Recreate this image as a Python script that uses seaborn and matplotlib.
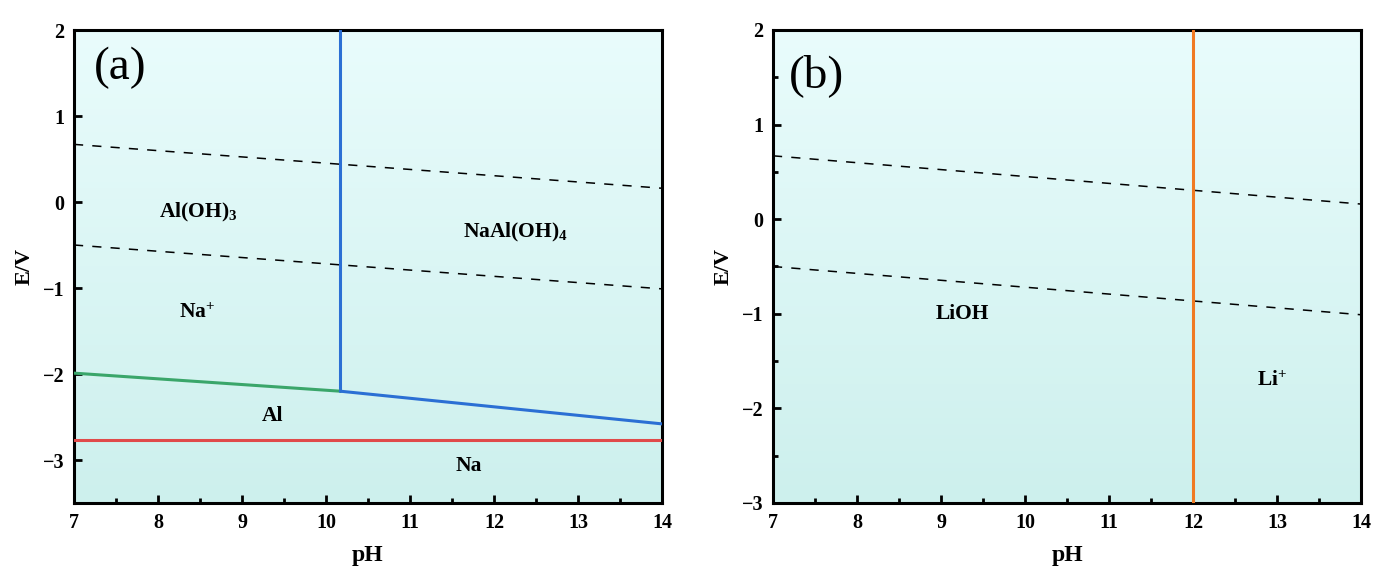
import numpy as np
import pandas as pd
import matplotlib
matplotlib.use("Agg")
import matplotlib.pyplot as plt
import seaborn as sns

# water stability lines (shared by both panels)
ph_ends = [7, 14]
o2_line = [0.67, 0.16]
h2_line = [-0.50, -1.01]

# panel (a): Na-Al system
a_vert_ph = [10.17, 10.17]
a_vert_e = [-2.20, 2.0]
a_green_ph = [7, 10.17]
a_green_e = [-1.99, -2.20]
a_blue_ph = [10.17, 14]
a_blue_e = [-2.20, -2.58]
a_red_ph = [7, 14]
a_red_e = [-2.77, -2.77]
a_labels = ["Al(OH)$_3$", "NaAl(OH)$_4$", "Na$^{+}$", "Al", "Na"]
a_label_ph = [8.48, 12.25, 8.46, 9.36, 11.70]
a_label_e = [-0.12, -0.36, -1.29, -2.49, -3.07]

# panel (b): Li system
b_vert_ph = [12, 12]
b_vert_e = [-3.0, 2.0]
b_labels = ["LiOH", "Li$^{+}$"]
b_label_ph = [9.25, 12.94]
b_label_e = [-1.00, -1.71]

sns.set_style("ticks")
plt.rcParams["font.family"] = ["Liberation Serif", "DejaVu Serif"]
plt.rcParams["mathtext.fontset"] = "custom"
plt.rcParams["mathtext.rm"] = "Liberation Serif:bold"
plt.rcParams["mathtext.it"] = "Liberation Serif:bold"
plt.rcParams["mathtext.bf"] = "Liberation Serif:bold"
plt.rcParams["text.color"] = "black"
plt.rcParams["axes.labelcolor"] = "black"
plt.rcParams["xtick.color"] = "black"
plt.rcParams["ytick.color"] = "black"
plt.rcParams["axes.edgecolor"] = "black"

fig = plt.figure(figsize=(13.93, 5.77), dpi=100)
ax_a = fig.add_axes([74 / 1393, 1 - 503 / 577, 588 / 1393, 473 / 577])
ax_b = fig.add_axes([773 / 1393, 1 - 503 / 577, 588 / 1393, 473 / 577])

top_col = np.array([233, 252, 252]) / 255
bot_col = np.array([205, 240, 237]) / 255
grad = np.linspace(0, 1, 256)[:, None, None]
grad_img = top_col * (1 - grad) + bot_col * grad


def draw_line(ax, xs, ys, **kw):
    sns.lineplot(x=xs, y=ys, ax=ax, estimator=None, sort=False, **kw)


def style_axes(ax, ymin, yticks):
    ax.imshow(grad_img, extent=[0, 1, 0, 1], transform=ax.transAxes,
              aspect="auto", zorder=0)
    ax.set_xticks(range(7, 15))
    ax.set_xticks(np.arange(7.5, 14, 1), minor=True)
    ax.set_yticks(yticks)
    ax.set_yticks(np.arange(ymin + 0.5, 2, 1), minor=True)
    ax.set_yticklabels(["\u2212" + str(-t) if t < 0 else str(t) for t in yticks])
    ax.tick_params(which="major", direction="in", length=6, width=2,
                   labelsize=14.5, pad=7, top=False, right=False)
    ax.tick_params(which="minor", direction="in", length=3.5, width=2,
                   top=False, right=False)
    for lab in ax.get_xticklabels() + ax.get_yticklabels():
        lab.set_fontweight("bold")
    for sp in ax.spines.values():
        sp.set_visible(True)
        sp.set_linewidth(2.2)
    ax.set_xlabel("pH", fontsize=17, fontweight="bold", labelpad=9)
    ax.set_ylabel("E/V", fontsize=16, fontweight="bold", labelpad=6)
    for ys in (o2_line, h2_line):
        draw_line(ax, ph_ends, ys, color="black", lw=1.1,
                  linestyle=(0, (6, 6)), zorder=2)
    ax.set_xlim(7, 14)
    ax.set_ylim(ymin, 2)


style_axes(ax_a, -3.5, [2, 1, 0, -1, -2, -3])
draw_line(ax_a, a_vert_ph, a_vert_e, color="#2b6fd4", lw=2.2, zorder=3)
draw_line(ax_a, a_green_ph, a_green_e, color="#3aa66a", lw=2.2, zorder=3)
draw_line(ax_a, a_blue_ph, a_blue_e, color="#2b6fd4", lw=2.2, zorder=3)
draw_line(ax_a, a_red_ph, a_red_e, color="#e04a4a", lw=2.2, zorder=3)
for t, x, y in zip(a_labels, a_label_ph, a_label_e):
    ax_a.text(x, y, t, ha="center", va="center", fontsize=15.5, fontweight="bold")
ax_a.text(7.55, 1.56, "(a)", fontsize=34, ha="center", va="center")
ax_a.set_xlim(7, 14)
ax_a.set_ylim(-3.5, 2)

style_axes(ax_b, -3.0, [2, 1, 0, -1, -2, -3])
draw_line(ax_b, b_vert_ph, b_vert_e, color="#f07a22", lw=2.2, zorder=3)
for t, x, y in zip(b_labels, b_label_ph, b_label_e):
    ax_b.text(x, y, t, ha="center", va="center", fontsize=15.5, fontweight="bold")
ax_b.text(7.52, 1.52, "(b)", fontsize=34, ha="center", va="center")
ax_b.set_xlim(7, 14)
ax_b.set_ylim(-3.0, 2)

fig.savefig("out.png", dpi=100)
